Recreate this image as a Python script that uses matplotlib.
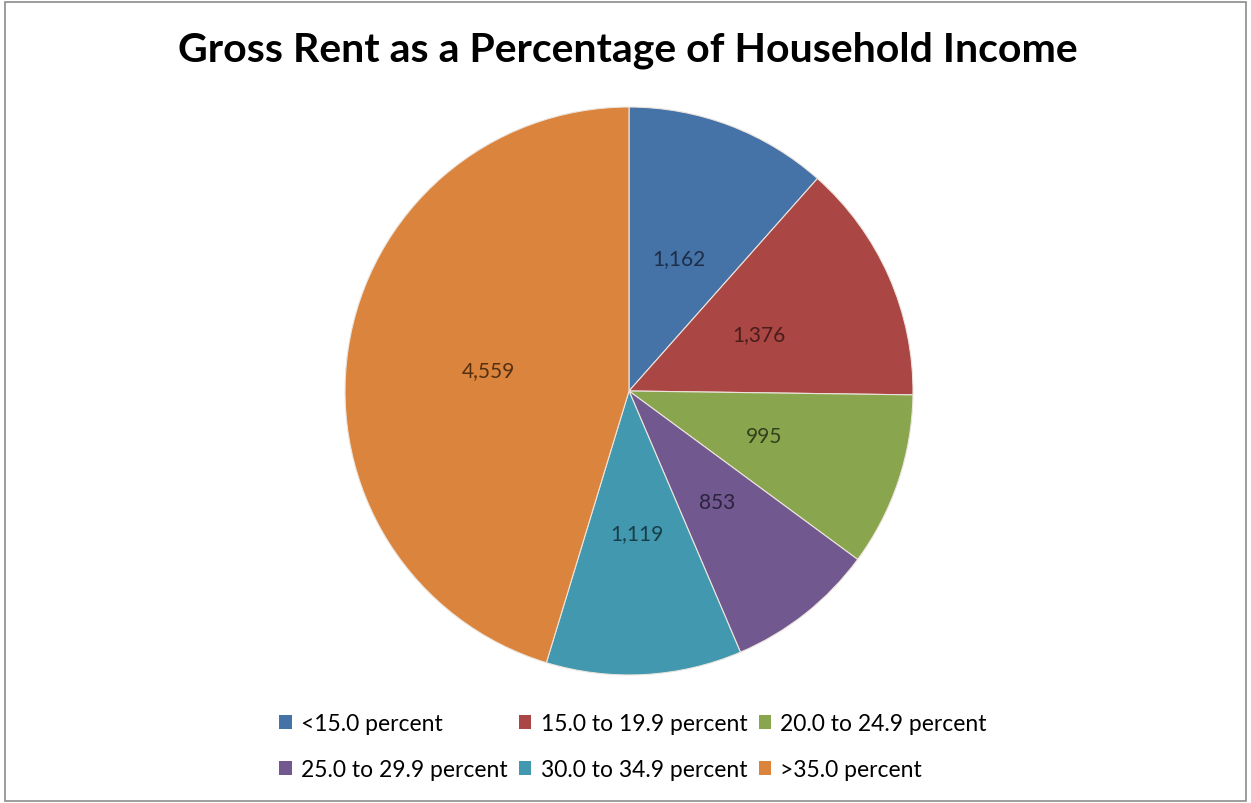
import numpy as np
import matplotlib.pyplot as plt
from matplotlib.patches import Rectangle, Patch

# household counts by gross rent share of income
categories = ['<15.0 percent', '15.0 to 19.9 percent', '20.0 to 24.9 percent',
              '25.0 to 29.9 percent', '30.0 to 34.9 percent', '>35.0 percent']
households = [1162, 1376, 995, 853, 1119, 4559]

colors = ['#4572A7', '#AA4643', '#89A54E', '#71588F', '#4198AF', '#DB843D']
label_colors = ['#1c2e48', '#4a1c1b', '#33401c', '#2c2240', '#183e4a', '#55300f']

plt.rcParams['font.family'] = ['Lato', 'DejaVu Sans']

fig = plt.figure(figsize=(12.51, 8.04), dpi=100)
ax = fig.add_axes([0.2758, 0.1592, 0.454, 0.7065])

wedges, texts, autotexts = ax.pie(
    households, colors=colors, startangle=90, counterclock=False,
    autopct=lambda p: '{:,.0f}'.format(p * sum(households) / 100),
    pctdistance=0.5, radius=1,
    wedgeprops=dict(edgecolor='#ece4dc', linewidth=0.8))
for t, c in zip(autotexts, label_colors):
    t.set_color(c)
    t.set_fontsize(15)
ax.set_xlim(-1, 1)
ax.set_ylim(-1, 1)
ax.set_aspect('equal')

fig.text(0.502, 0.937, 'Gross Rent as a Percentage of Household Income',
         ha='center', va='center', fontsize=29.5, fontweight='bold')

# legend is filled row by row, matplotlib fills by column
handles = [Patch(facecolor=c, edgecolor='none') for c in colors]
order = [0, 3, 1, 4, 2, 5]
fig.legend([handles[i] for i in order], [categories[i] for i in order],
           ncol=3, loc='center', bbox_to_anchor=(0.506, 0.0700),
           frameon=False, fontsize=16.5, handlelength=0.55, handleheight=0.55,
           handletextpad=0.4, columnspacing=0.5, labelspacing=1.1,
           borderpad=0.2)

fig.patches.append(Rectangle((0.004, 0.003), 0.992, 0.993, transform=fig.transFigure,
                             fill=False, edgecolor='#8c8c8c', linewidth=1.2))

plt.savefig('out.png', dpi=100)
